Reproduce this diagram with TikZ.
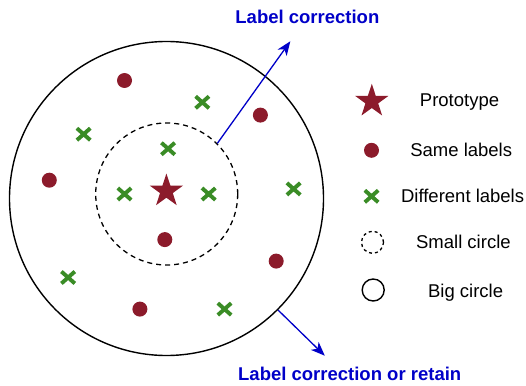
\documentclass[tikz,border=0pt]{standalone}
\usepackage{fontspec}
\setmainfont{Liberation Sans}
\usetikzlibrary{shapes.geometric,shapes.misc,arrows.meta}
\definecolor{protored}{RGB}{140,27,43}
\definecolor{diffgreen}{RGB}{58,140,38}
\definecolor{corrblue}{RGB}{0,0,200}
\begin{document}
\begin{tikzpicture}[
        x=1pt, y=-1pt,
        protn/.style={star, star points=5, star point ratio=2.6, fill=protored, minimum size=35pt, inner sep=0pt},
        samen/.style={circle, fill=protored, minimum size=15pt, inner sep=0pt},
        diffn/.style={cross out, draw=diffgreen, line width=3.9pt, minimum width=9.5pt, minimum height=8pt, inner sep=0pt},
        bigc/.style={circle, draw, line width=1.4pt, inner sep=0pt},
        smallc/.style={circle, draw, line width=1.3pt, dash pattern=on 5pt off 4pt, inner sep=0pt},
        legtext/.style={font=\fontsize{18.5}{22}\selectfont, anchor=base},
        corrtext/.style={font=\fontsize{18.5}{22}\selectfont\bfseries, text=corrblue, anchor=base, inner sep=0pt},
        corrarrow/.style={draw=corrblue, line width=1.3pt, -{Stealth[length=14pt,width=11pt,inset=4pt]}},
    ]
    \useasboundingbox (0,0) rectangle (526,385);
    % circles
    \node[bigc, minimum size=314pt](big) at (166.5,198.5){};
    \node[smallc, minimum size=142pt](small) at (166.7,194){};
    \node[protn](proto) at (166.4,191){};
    % samples
    \foreach \px/\py [count=\i] in {124.5/80.5, 260.4/115.1, 49.3/180.2, 164.8/239.6, 276.2/261.1, 139.9/309.1}
        \node[samen](same\i) at (\px,\py){};
    \foreach \px/\py [count=\i] in {202.3/102.3, 83.6/134.2, 168.1/148.7, 124.5/194, 208.7/194, 293.6/188.9, 68.1/277.5, 224.5/309.1}
        \node[diffn](diff\i) at (\px,\py){};
    % arrows
    \coordinate (corrtip) at (290.3,41.3);
    \coordinate (retaintip) at (324.8,355.7);
    \draw[corrarrow] (small.45) -- (corrtip);
    \draw[corrarrow] (big.-45) -- (retaintip);
    \node[corrtext](corr) at (307.4,23.5){Label correction};
    \node[corrtext](retain) at (349.7,380.5){Label correction or retain};
    % legend
    \node[protn](legproto) at (371.8,101.3){};
    \node[samen](legsame) at (371.5,150.3){};
    \node[diffn](legdiff) at (371.5,196.3){};
    \node[smallc, minimum size=22pt, dash pattern=on 3pt off 3pt](legsmall) at (372.5,242.3){};
    \node[bigc, minimum size=22pt](legbig) at (373.2,290){};
    \node[legtext](tproto) at (459.5,106.7){Prototype};
    \node[legtext](tsame) at (461.2,156){Same labels};
    \node[legtext](tdiff) at (462.6,202.3){Different labels};
    \node[legtext](tsmall) at (463.4,248.7){Small circle};
    \node[legtext](tbig) at (465.6,297.3){Big circle};
\end{tikzpicture}
\end{document}
